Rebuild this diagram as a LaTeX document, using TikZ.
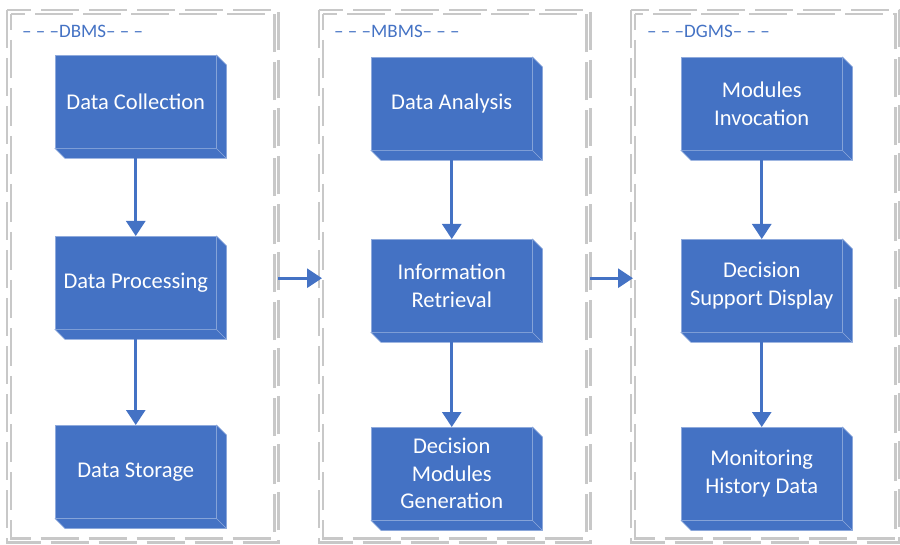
\documentclass[tikz,border=0pt]{standalone}
\usepackage{fontspec}
\setmainfont{Carlito}
\usetikzlibrary{arrows.meta}
\definecolor{mblue}{HTML}{4472C4}
\definecolor{medge}{HTML}{8FAADC}
\definecolor{framegray}{HTML}{C8C8C8}
\tikzset{
  box/.style={fill=mblue, draw=medge, line width=0.5pt, minimum width=161pt, minimum height=93pt,
    inner sep=0pt, text=white, font=\fontsize{22.5}{27.5}\selectfont, align=center, anchor=north west},
  conn/.style={draw=mblue, line width=2.8pt, -{Triangle[length=15pt,width=19pt]}},
  frameline/.style={draw=framegray, line width=2.2pt, dash pattern=on 38pt off 10pt},
  paneltitle/.style={text=mblue, font=\fontsize{19}{22}\selectfont, anchor=west, inner sep=0pt},
  panel/.style={inner sep=0pt, minimum height=532pt, anchor=north west}
}
\newcommand\extrude[1]{%
  \filldraw[fill=mblue, draw=medge, line width=0.5pt] (#1.north east) -- ++(10,10)
    -- ([shift={(10,10)}]#1.south east) -- ([shift={(10,10)}]#1.south west)
    -- (#1.south west) -- (#1.south east) -- cycle;
  \draw[medge, line width=0.5pt] (#1.south east) -- ++(10,10);
}
\newcommand\frameit[1]{%
  \draw[frameline] (#1.north west) rectangle (#1.south east);
  \draw[frameline, dash phase=22pt] ([shift={(4,4)}]#1.north west) rectangle ([shift={(-4,-4)}]#1.south east);
}
\begin{document}
\begin{tikzpicture}[x=1pt, y=-1pt]
\useasboundingbox (0,0) rectangle (900,545);
% panels
\node[panel, minimum width=271pt] (p1) at (7,10) {};
\node[panel, minimum width=271pt] (p2) at (319,10) {};
\node[panel, minimum width=268pt] (p3) at (631,10) {};
\frameit{p1}\frameit{p2}\frameit{p3}
\node[paneltitle] (t1) at (22,31) {– – –DBMS– – –};
\node[paneltitle] (t2) at (334,31) {– – –MBMS– – –};
\node[paneltitle] (t3) at (647,31) {– – –DGMS– – –};
% column 1
\node[box] (a1) at (55,55) {Data Collection}; \extrude{a1}
\node[box] (a2) at (55,236) {Data Processing}; \extrude{a2}
\node[box] (a3) at (55,425) {Data Storage}; \extrude{a3}
% column 2
\node[box] (b1) at (371,57) {Data Analysis}; \extrude{b1}
\node[box] (b2) at (371,239) {Information\\Retrieval}; \extrude{b2}
\node[box] (b3) at (371,427) {Decision\\Modules\\Generation}; \extrude{b3}
% column 3
\node[box] (c1) at (681,57) {Modules\\Invocation}; \extrude{c1}
\node[box] (c2) at (681,239) {Decision\\Support Display}; \extrude{c2}
\node[box] (c3) at (681,427) {Monitoring\\History Data}; \extrude{c3}
% vertical arrows
\draw[conn] ([yshift=-10pt]a1.south) -- (a2.north);
\draw[conn] ([yshift=-10pt]a2.south) -- (a3.north);
\draw[conn] ([yshift=-10pt]b1.south) -- (b2.north);
\draw[conn] ([yshift=-10pt]b2.south) -- (b3.north);
\draw[conn] ([yshift=-10pt]c1.south) -- (c2.north);
\draw[conn] ([yshift=-10pt]c2.south) -- (c3.north);
% horizontal arrows
\draw[conn, shorten >=-3pt] ([yshift=-2pt]p1.east) -- ([yshift=-2pt]p2.west);
\draw[conn, shorten >=-2pt] ([yshift=-2pt]p2.east) -- ([yshift=-2pt]p3.west);
\end{tikzpicture}
\end{document}
